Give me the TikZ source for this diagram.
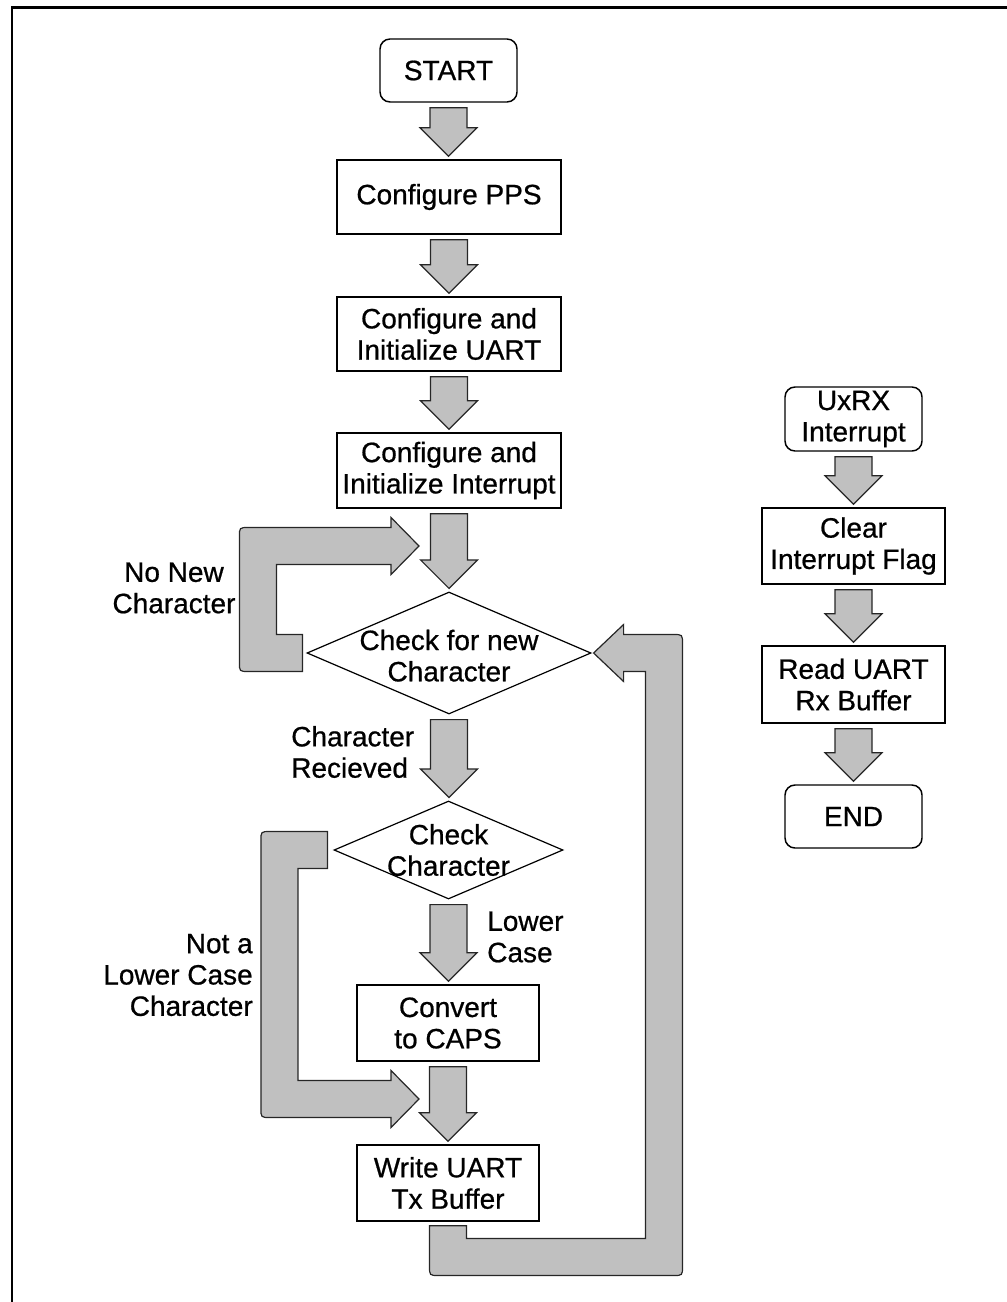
\documentclass[tikz,border=0pt]{standalone}
\usepackage{fontspec}
\setmainfont{Liberation Sans}[FakeBold=0.7]
\usetikzlibrary{calc,shapes.geometric}
\definecolor{arrowgray}{HTML}{C0C0C0}
\def\abw{13.875pt}
\def\abH{21.375pt}
\def\abL{21pt}
\def\abr{7pt}
\newcommand\blkdown[2]{\draw[blk] let \p1=($(#1.south)+(0,5)$), \p2=($(#2.north)+(0,-3)$) in
  (\x1-\abw,\y1) -- (\x1+\abw,\y1) -- (\x1+\abw,\y2+\abH) -- (\x1+\abH,\y2+\abH) -- (\x1,\y2)
  -- (\x1-\abH,\y2+\abH) -- (\x1-\abw,\y2+\abH) -- cycle;}
\begin{document}
\begin{tikzpicture}[x=0.75pt,y=-0.75pt,
  font=\fontsize{21}{23.5}\selectfont,
  box/.style={draw=black,line width=1.1pt,fill=white,inner sep=0pt,align=center},
  term/.style={box,rounded corners=7.5pt},
  dia/.style={draw=black,line width=0.9pt,fill=white,diamond,inner sep=0pt},
  blk/.style={draw=black!85,line width=0.9pt,fill=arrowgray,line join=miter},
  lab/.style={inner sep=0pt}]
\useasboundingbox (0,0) rectangle (1006,1302);
\draw[line width=2pt] (12,1320) -- (12,7.3) -- (1020,7.3);

% main column
\node[term,minimum width=102.75pt,minimum height=47.25pt] (start) at (448.5,70.5) {START};
\node[box,minimum width=168pt,minimum height=55.5pt] (pps) at (449,197) {Configure PPS};
\node[box,minimum width=168pt,minimum height=55.5pt] (uart) at (449,334) {Configure and\\Initialize UART};
\node[box,minimum width=168pt,minimum height=56.25pt] (intr) at (449,470.5) {Configure and\\Initialize Interrupt};
\node[dia,minimum width=213pt,minimum height=91.5pt,
  label={[lab,align=center,yshift=-2pt]center:{Check for new\\Character}}] (d1) at (449,653) {};
\node[dia,minimum width=171.75pt,minimum height=73.5pt,
  label={[lab,align=center]center:{Check\\Character}}] (d2) at (448.5,850) {};
\node[box,minimum width=136.5pt,minimum height=57pt] (caps) at (448,1023) {Convert\\to CAPS};
\node[box,minimum width=136.5pt,minimum height=57pt] (write) at (448,1183) {Write UART\\Tx Buffer};

% right column
\node[term,minimum width=102.75pt,minimum height=48pt] (uxrx) at (853.5,419) {UxRX\\Interrupt};
\node[box,minimum width=137.25pt,minimum height=57pt] (clear) at (853.5,546) {Clear\\Interrupt Flag};
\node[box,minimum width=137.25pt,minimum height=57.75pt] (read) at (853.5,684.5) {Read UART\\Rx Buffer};
\node[term,minimum width=102.75pt,minimum height=47.25pt] (end) at (853.5,816.5) {END};

% labels
\node[lab,align=center] (lnonew) at (174,588) {No New\\Character};
\node[lab,align=left,anchor=west] (lrecv) at (291,752) {Character\\Recieved};
\node[lab,align=left,anchor=west] (llower) at (487,937) {Lower\\Case};
\node[lab,align=right,anchor=east] (lnot) at (253,975) {Not a\\Lower Case\\Character};

% straight block arrows
\blkdown{start}{pps}
\blkdown{pps}{uart}
\blkdown{uart}{intr}
\blkdown{intr}{d1}
\blkdown{d1}{d2}
\blkdown{d2}{caps}
\blkdown{caps}{write}
\blkdown{uxrx}{clear}
\blkdown{clear}{read}
\blkdown{read}{end}

% loop routing points
\coordinate (j1) at (419,546);
\coordinate (j2) at (419,1099);
\coordinate (c1) at ($(d1.west)+(-48.5,0)$);
\coordinate (c2) at ($(d2.west)+(-54,0)$);
\coordinate (c3) at (664,1257);

% No new character loop
\draw[blk] let \p1=($(d1.west)+(-4,0)$), \p2=(j1), \p3=(c1) in
  (\x1,\y1+\abw) -- (\x3+\abw,\y1+\abw) -- (\x3+\abw,\y2-\abw) -- (\x2-\abL,\y2-\abw)
  -- (\x2-\abL,\y2-\abH) -- (\x2,\y2) -- (\x2-\abL,\y2+\abH) -- (\x2-\abL,\y2+\abw)
  -- (\x3-\abw+\abr,\y2+\abw) .. controls (\x3-\abw,\y2+\abw) .. (\x3-\abw,\y2+\abw-\abr)
  -- (\x3-\abw,\y1-\abw+\abr) .. controls (\x3-\abw,\y1-\abw) .. (\x3-\abw+\abr,\y1-\abw)
  -- (\x1,\y1-\abw) -- cycle;

% Not a lower case loop
\draw[blk] let \p1=($(d2.west)+(-6,0)$), \p2=(j2), \p3=(c2) in
  (\x1,\y1+\abw) -- (\x3-\abw+\abr,\y1+\abw) .. controls (\x3-\abw,\y1+\abw) .. (\x3-\abw,\y1+\abw-\abr)
  -- (\x3-\abw,\y2-\abw+\abr) .. controls (\x3-\abw,\y2-\abw) .. (\x3-\abw+\abr,\y2-\abw)
  -- (\x2-\abL,\y2-\abw) -- (\x2-\abL,\y2-\abH) -- (\x2,\y2) -- (\x2-\abL,\y2+\abH)
  -- (\x2-\abL,\y2+\abw) -- (\x3+\abw,\y2+\abw) -- (\x3+\abw,\y1-\abw) -- (\x1,\y1-\abw) -- cycle;

% return loop
\draw[blk] let \p1=($(write.south)+(0,4)$), \p2=($(d1.east)+(2,0)$), \p3=(c3) in
  (\x1-\abw,\y1) -- (\x1-\abw,\y3-\abw+\abr) .. controls (\x1-\abw,\y3-\abw) .. (\x1-\abw+\abr,\y3-\abw)
  -- (\x3+\abw-\abr,\y3-\abw) .. controls (\x3+\abw,\y3-\abw) .. (\x3+\abw,\y3-\abw+\abr)
  -- (\x3+\abw,\y2+\abw-\abr) .. controls (\x3+\abw,\y2+\abw) .. (\x3+\abw-\abr,\y2+\abw)
  -- (\x2+22.5pt,\y2+\abw) -- (\x2+22.5pt,\y2+\abH) -- (\x2,\y2) -- (\x2+22.5pt,\y2-\abH)
  -- (\x2+22.5pt,\y2-\abw) -- (\x3-\abw,\y2-\abw) -- (\x3-\abw,\y3+\abw) -- (\x1+\abw,\y3+\abw)
  -- (\x1+\abw,\y1) -- cycle;
\end{tikzpicture}
\end{document}
